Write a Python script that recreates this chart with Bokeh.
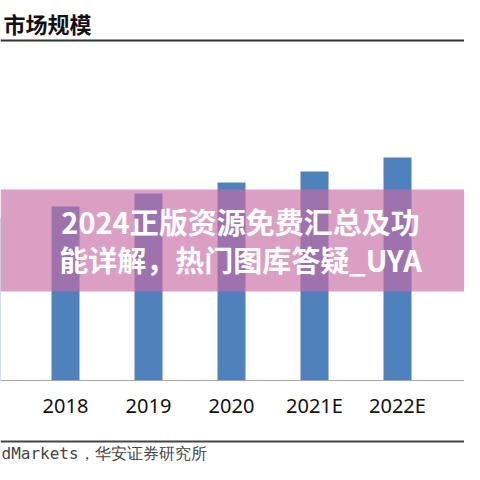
from bokeh.plotting import figure
from bokeh.models import (Range1d, LinearAxis, FixedTicker, Label, Span, BoxAnnotation)
from bokeh.embed import file_html
from bokeh.resources import INLINE

# ---- data ----
years = ["2017", "2018", "2019", "2020", "2021E", "2022E", "2023E"]
market_size = [16.2, 17.4, 18.7, 19.8, 20.9, 22.3, 23.7]
title_text = "市场规模"
source_text = "dMarkets，华安证券研究所"
overlay_line1 = "2024正版资源免费汇总及功"
overlay_line2 = "能详解，热门图库答疑_UYA"

# ---- pixel helpers (picture px -> data) ----
W = H = 464
def dx(sx):
    return (sx + 18) / 83.0
def dy(sy):
    return (380 - sy) / 10.0

x_idx = list(range(len(years)))

p = figure(width=W, height=H, output_backend="svg", toolbar_location=None,
           x_range=Range1d(dx(0), dx(W)), y_range=Range1d(dy(H), dy(0)),
           x_axis_location=None, y_axis_location=None,
           min_border=0, outline_line_color=None)
p.grid.visible = False
p.background_fill_color = "white"

p.vbar(x=x_idx, top=market_size, bottom=0, width=28 / 83.0,
       fill_color="#4f81bd", line_color=None)

ax = LinearAxis(fixed_location=0,
                ticker=FixedTicker(ticks=x_idx),
                major_label_overrides={i: y for i, y in zip(x_idx, years)})
ax.axis_line_color = "#a6a6a6"
ax.axis_line_width = 1
ax.major_tick_line_color = None
ax.minor_tick_line_color = None
ax.major_label_standoff = 5
ax.major_label_text_font = "Noto Sans"
ax.major_label_text_font_size = "20px"
ax.major_label_text_color = "#111111"
p.add_layout(ax, "below")

# title and underline
p.add_layout(Label(x=dx(3), y=dy(22), text=title_text, text_font="Noto Sans CJK SC",
                   text_font_style="bold", text_font_size="22px", text_color="#111111",
                   text_baseline="middle", text_align="left"))
p.add_layout(Span(location=dy(40), dimension="width", line_color="#333333", line_width=2))

# bottom rule and source
p.add_layout(Span(location=dy(441), dimension="width", line_color="#444444", line_width=2))
p.add_layout(Label(x=dx(1), y=dy(453), text=source_text, text_font="DejaVu Sans Mono",
                   text_font_size="16px", text_color="#444444",
                   text_baseline="middle", text_align="left"))

# pink overlay band
p.add_layout(BoxAnnotation(bottom=dy(291), top=dy(189), fill_color="#c96ca4",
                           fill_alpha=0.65, line_color=None))
for t, sy in [(overlay_line1, 220), (overlay_line2, 258)]:
    p.add_layout(Label(x=dx(240), y=dy(sy), text=t, text_font="Noto Sans CJK SC",
                       text_font_style="bold", text_font_size="29px", text_color="white",
                       text_baseline="middle", text_align="center"))

open("out.html", "w").write(file_html(p, INLINE))
